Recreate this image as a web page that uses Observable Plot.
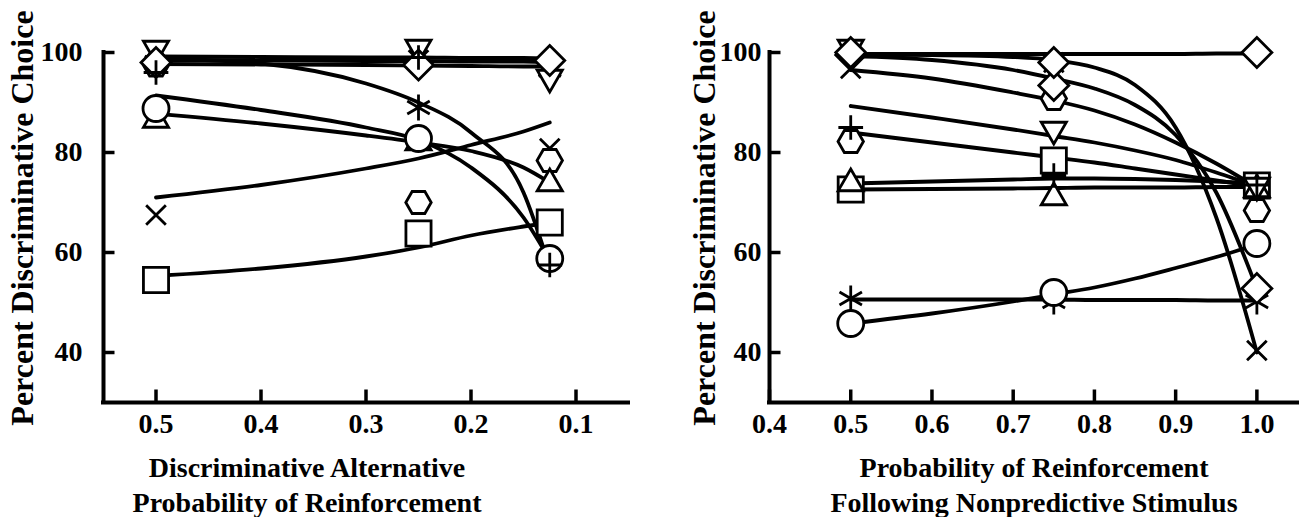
<!DOCTYPE html>
<html><head><meta charset="utf-8">
<script src="https://cdn.jsdelivr.net/npm/d3@7"></script>
<script src="https://cdn.jsdelivr.net/npm/@observablehq/plot@0.6"></script>
<style>
body{margin:0;background:#fff;}
#wrap{position:relative;width:1303px;height:517px;overflow:hidden;font-family:"Liberation Serif","Times New Roman",serif;font-weight:bold;color:#000;}
.panel{position:absolute;top:0;}
.xt{position:absolute;font-size:28px;line-height:35px;text-align:center;white-space:nowrap;transform:translateX(-50%);}
.yt{position:absolute;font-size:32px;white-space:nowrap;transform:translate(-50%,-50%) rotate(-90deg);}
</style></head><body><div id="wrap"></div>
<script>
// ---------- tick labels ----------
const yTicks = [40, 60, 80, 100];
const leftXTicks = [0.5, 0.4, 0.3, 0.2, 0.1];
const rightXTicks = [0.4, 0.5, 0.6, 0.7, 0.8, 0.9, 1.0];

// ---------- left panel: data points ----------
const leftX = [0.5, 0.25, 0.125];
const leftCircle = [88.8, 82.8, 58.8];
const leftSquare = [54.5, 63.8, 66.0];
const leftTriangle = [86.5, 82.0, 73.8];
const leftTriangleDown = [100.8, 101.0, 95.0];
const leftDiamond = [98.0, 97.5, 98.4];
const leftHexagon = [97.5, 70.0, 78.4];
const leftTimes = [67.5, 98.5, 80.8];
const leftPlus = [96.0, 99.0, 57.5];
const leftAsterisk = [98.0, 89.0, 96.5];

// ---------- left panel: fitted curves ----------
const leftCurveX = [0.5, 0.4, 0.3, 0.25, 0.2, 0.15, 0.125];
const leftFitDiamond = [99.2, 99.1, 99.0, 99.0, 98.9, 98.9, 98.8];
const leftFitTriangleDown = [98.5, 98.4, 98.3, 98.3, 98.2, 98.2, 98.1];
const leftFitAsterisk = [97.7, 97.6, 97.5, 97.4, 97.3, 97.2, 97.2];
const leftFitPlus = [98.8, 97.8, 93.8, 90.0, 84.0, 72.0, 57.0];
const leftFitCircle = [91.4, 88.5, 85.0, 82.5, 77.0, 67.0, 58.5];
const leftFitTriangle = [87.8, 85.8, 83.4, 82.0, 80.3, 77.0, 74.0];
const leftFitTimes = [71.0, 73.5, 76.8, 78.8, 81.5, 84.2, 86.0];
const leftFitSquare = [55.3, 56.8, 59.2, 61.0, 63.4, 65.2, 66.0];

// ---------- right panel: data points ----------
const rightX = [0.5, 0.75, 1.0];
const rightCircle = [45.8, 52.0, 61.8];
const rightSquare = [72.6, 78.4, 73.4];
const rightTriangle = [73.8, 71.0, 72.6];
const rightTriangleDown = [101.0, 84.6, 73.4];
const rightDiamondA = [100.0, 98.0, 100.0];
const rightDiamondB = [99.5, 93.4, 52.8];
const rightHexagon = [82.2, 90.8, 68.4];
const rightTimes = [96.8, 98.0, 40.4];
const rightPlus = [85.0, 75.4, 73.5];
const rightAsterisk = [50.8, 50.2, 50.2];

// ---------- right panel: fitted curves ----------
const rightCurveX = [0.5, 0.6, 0.7, 0.75, 0.8, 0.85, 0.9, 0.95, 1.0];
const rightFitDiamondA = [99.7, 99.7, 99.7, 99.7, 99.7, 99.7, 99.7, 99.8, 99.8];
const rightFitTimes = [99.6, 99.5, 99.1, 98.5, 97.0, 93.5, 85.0, 67.0, 40.0];
const rightFitDiamondB = [99.3, 98.5, 96.5, 94.8, 92.8, 89.5, 83.5, 72.0, 52.8];
const rightFitHexagon = [96.5, 94.8, 92.0, 90.4, 88.4, 85.6, 82.0, 77.8, 73.0];
const rightFitTriangleDown = [89.3, 87.0, 84.6, 83.3, 82.0, 80.4, 78.5, 76.0, 73.2];
const rightFitSquare = [84.0, 82.0, 80.0, 79.0, 78.0, 76.8, 75.6, 74.4, 73.2];
const rightFitPlus = [73.8, 74.2, 74.6, 74.8, 74.8, 74.7, 74.5, 74.2, 73.8];
const rightFitTriangle = [72.6, 72.7, 72.8, 72.9, 73.0, 73.0, 73.0, 73.1, 73.1];
const rightFitAsterisk = [50.6, 50.6, 50.6, 50.6, 50.5, 50.5, 50.5, 50.4, 50.4];
const rightFitCircle = [45.8, 47.8, 50.2, 51.6, 53.0, 54.8, 56.9, 59.1, 61.6];

// ---------- marker styles (drawing order) ----------
const markStyle = {
  times: {symbol: "times", r: 9},
  asterisk: {symbol: "asterisk", r: 12.3},
  hexagon: {symbol: "hexagon", r: 11, rotate: 90},
  square: {symbol: "square2", r: 16},
  triangle: {symbol: "triangle2", r: 12},
  triangleDown: {symbol: "triangle2", r: 12, rotate: 180},
  circle: {symbol: "circle", r: 13},
  diamondB: {symbol: "diamond2", r: 13.5},
  diamondA: {symbol: "diamond2", r: 13.5},
  plus: {symbol: "plus", r: 8}
};

const leftPoints = {times: leftTimes, asterisk: leftAsterisk, hexagon: leftHexagon, square: leftSquare,
  triangle: leftTriangle, triangleDown: leftTriangleDown, circle: leftCircle, diamondA: leftDiamond, plus: leftPlus};
const leftFits = {diamondA: leftFitDiamond, triangleDown: leftFitTriangleDown, asterisk: leftFitAsterisk,
  plus: leftFitPlus, circle: leftFitCircle, triangle: leftFitTriangle, times: leftFitTimes, square: leftFitSquare};
const rightPoints = {times: rightTimes, asterisk: rightAsterisk, hexagon: rightHexagon, square: rightSquare,
  triangle: rightTriangle, triangleDown: rightTriangleDown, circle: rightCircle, diamondB: rightDiamondB,
  diamondA: rightDiamondA, plus: rightPlus};
const rightFits = {diamondA: rightFitDiamondA, times: rightFitTimes, diamondB: rightFitDiamondB, hexagon: rightFitHexagon,
  triangleDown: rightFitTriangleDown, square: rightFitSquare, plus: rightFitPlus, triangle: rightFitTriangle,
  asterisk: rightFitAsterisk, circle: rightFitCircle};

const tickRight = {draw(ctx) { ctx.moveTo(0, 0); ctx.lineTo(11, 0); }};
const tickUp = {draw(ctx) { ctx.moveTo(0, 0); ctx.lineTo(0, -13); }};

function panel({xDomain, xTicks, width, marginLeft, marginRight, yPad, xs, points, curveX, fits}) {
  const lineData = [];
  for (const [name, ys] of Object.entries(fits)) ys.forEach((y, i) => lineData.push({s: name, x: curveX[i], y}));
  const dotMarks = [];
  for (const name of Object.keys(markStyle)) {
    if (!points[name]) continue;
    const st = markStyle[name];
    const data = points[name].map((y, i) => ({x: xs[i], y}));
    const isLine = ["times", "plus", "asterisk"].includes(name);
    dotMarks.push(Plot.dot(data, {x: "x", y: "y", symbol: st.symbol, r: st.r, rotate: st.rotate || 0,
      stroke: "black", strokeWidth: 2.8, fill: isLine ? "none" : "white"}));
  }
  return Plot.plot({
    width, height: 517, marginLeft, marginRight, marginTop: 52, marginBottom: 115,
    x: {domain: xDomain},
    y: {domain: [30, 100]},
    style: {fontFamily: "'Liberation Serif','Times New Roman',serif", fontWeight: "bold", background: "transparent", overflow: "visible"},
    marks: [
      Plot.line(lineData, {x: "x", y: "y", z: "s", curve: "monotone-x", stroke: "black", strokeWidth: 3.8}),
      ...dotMarks,
      Plot.ruleX([xDomain[0]], {stroke: "black", strokeWidth: 4, strokeLinecap: "square"}),
      Plot.ruleY([30], {stroke: "black", strokeWidth: 4, strokeLinecap: "square"}),
      Plot.dot(yTicks, {y: d => d, frameAnchor: "left", symbol: tickRight, stroke: "black", strokeWidth: 3.5, fill: "none"}),
      Plot.dot(xTicks, {x: d => d, frameAnchor: "bottom", symbol: tickUp, stroke: "black", strokeWidth: 3.5, fill: "none"}),
      Plot.axisY({ticks: yTicks, tickSize: 0, tickPadding: yPad, fontSize: 28, fontWeight: "bold", label: null, tickFormat: d => String(d)}),
      Plot.axisX({ticks: xTicks, tickSize: 0, tickPadding: 11, fontSize: 28, fontWeight: "bold", label: null, tickFormat: d3.format(".1f")})
    ]
  });
}

const wrap = document.getElementById("wrap");
const left = panel({xDomain: [0.55, 0.05], xTicks: leftXTicks, width: 640, marginLeft: 103, marginRight: 12, yPad: 21,
  xs: leftX, points: leftPoints, curveX: leftCurveX, fits: leftFits});
left.classList.add("panel"); left.style.left = "0px";
wrap.appendChild(left);
const right = panel({xDomain: [0.4, 1.05], xTicks: rightXTicks, width: 663, marginLeft: 129, marginRight: 6, yPad: 8,
  xs: rightX, points: rightPoints, curveX: rightCurveX, fits: rightFits});
right.classList.add("panel"); right.style.left = "640px";
wrap.appendChild(right);

function addText(cls, txt, x, y) {
  const d = document.createElement("div");
  d.className = cls; d.innerHTML = txt;
  d.style.left = x + "px"; d.style.top = y + "px";
  wrap.appendChild(d);
}
addText("yt", "Percent Discriminative Choice", 22, 218);
addText("yt", "Percent Discriminative Choice", 704, 218);
addText("xt", "Discriminative Alternative<br>Probability of Reinforcement", 307, 450);
addText("xt", "Probability of Reinforcement<br>Following Nonpredictive Stimulus", 1034, 450);
</script>
</body></html>
